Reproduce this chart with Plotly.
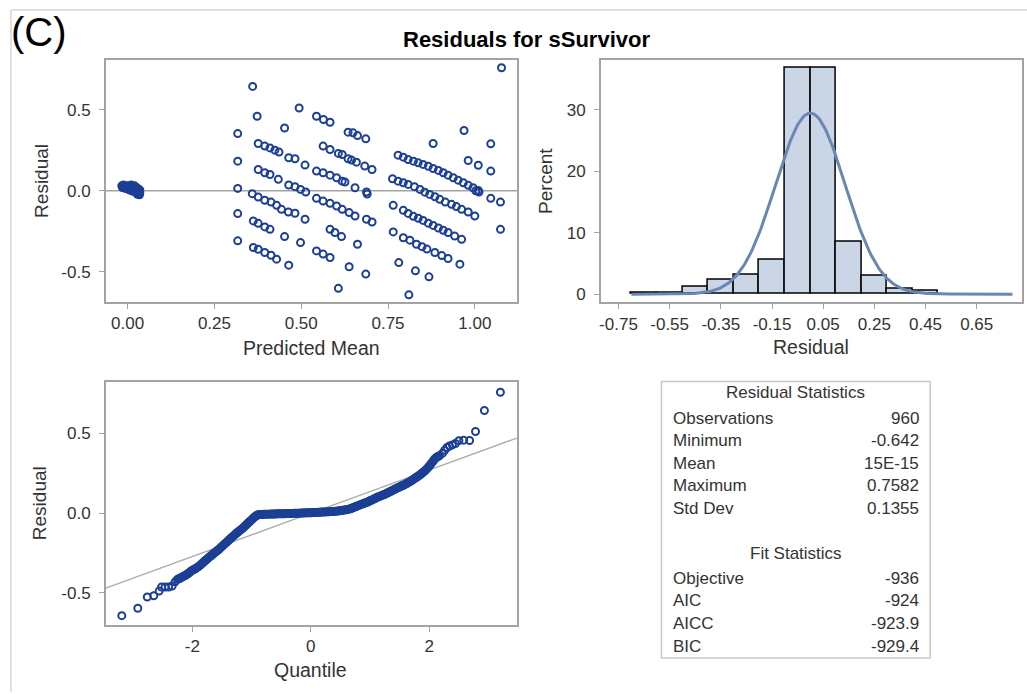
import numpy as np
import plotly.graph_objects as go

W, H = 1027, 694
FONT = "Arial, 'Liberation Sans', sans-serif"
MARK = "#1c3f95"
FRAME = "#a3a3a3"
TXT = "#333333"

# ---------------- Residual vs predicted mean ----------------
pred_mean = [
    # cluster near zero
    -0.017, -0.015, -0.012, -0.010, -0.008, -0.005, -0.003, 0.000, 0.000, 0.003,
    0.005, 0.005, 0.008, 0.010, 0.012, 0.012, 0.015, 0.017, 0.018, 0.020,
    0.022, 0.024, 0.025, 0.027, 0.029, 0.030, 0.032, 0.033, 0.035, 0.035,
    0.034, 0.028,
    # low group
    0.317, 0.317, 0.317, 0.317, 0.317, 0.360, 0.373, 0.452, 0.494,
    0.376, 0.395, 0.410, 0.424, 0.436, 0.464, 0.482, 0.511,
    0.376, 0.395, 0.410, 0.434, 0.464, 0.482, 0.498, 0.513,
    0.359, 0.376, 0.395, 0.413, 0.429, 0.443, 0.463, 0.482, 0.511,
    0.362, 0.376, 0.395, 0.410, 0.452, 0.498,
    0.362, 0.376, 0.395, 0.413, 0.429, 0.464,
    # middle group
    0.544, 0.564, 0.583, 0.635, 0.649, 0.662, 0.686,
    0.563, 0.583, 0.607, 0.618, 0.635, 0.645, 0.659, 0.683, 0.704,
    0.544, 0.563, 0.583, 0.602, 0.618, 0.626, 0.655, 0.688, 0.690,
    0.544, 0.563, 0.583, 0.602, 0.618, 0.638, 0.655, 0.688, 0.704,
    0.583, 0.597, 0.616, 0.662,
    0.544, 0.563, 0.583, 0.638, 0.686,
    0.607,
    # high group
    0.779, 0.794, 0.808, 0.823, 0.837, 0.851, 0.866, 0.880, 0.895, 0.909,
    0.923, 0.938, 0.952, 0.967, 0.981, 0.995, 1.010, 1.003, 1.012,
    0.763, 0.779, 0.794, 0.808, 0.826, 0.842, 0.856, 0.870, 0.885, 0.899,
    0.915, 0.933, 0.947, 0.962, 0.981, 1.000,
    0.765, 0.794, 0.808, 0.823, 0.837, 0.851, 0.866, 0.880, 0.895, 0.909,
    0.923, 0.942, 0.962,
    0.765, 0.794, 0.813, 0.832, 0.848, 0.862, 0.885, 0.905, 0.923, 0.957,
    0.781, 0.829, 0.868,
    0.810,
    0.880, 0.969, 0.981, 1.010, 1.046, 1.046, 1.046, 1.074, 1.074, 1.077,
]
resid_pm = [
    0.030, 0.020, 0.035, 0.025, 0.015, 0.030, 0.020, 0.025, 0.010, 0.030,
    0.015, 0.005, 0.022, 0.035, 0.010, 0.000, 0.025, 0.015, -0.005, 0.030,
    0.005, -0.010, 0.020, 0.000, -0.015, 0.012, -0.005, -0.020, -0.012, 0.005,
    -0.025, -0.022,
    0.352, 0.182, 0.014, -0.141, -0.309, 0.643, 0.459, 0.387, 0.510,
    0.291, 0.275, 0.264, 0.250, 0.238, 0.203, 0.197, 0.158,
    0.131, 0.111, 0.100, 0.070, 0.035, 0.025, 0.008, -0.008,
    -0.018, -0.039, -0.059, -0.070, -0.090, -0.115, -0.131, -0.139, -0.176,
    -0.186, -0.201, -0.223, -0.238, -0.283, -0.320,
    -0.350, -0.361, -0.381, -0.398, -0.422, -0.459,
    0.459, 0.439, 0.422, 0.361, 0.357, 0.340, 0.320,
    0.275, 0.254, 0.230, 0.223, 0.197, 0.189, 0.176, 0.152, 0.131,
    0.121, 0.111, 0.096, 0.080, 0.059, 0.053, 0.018, -0.008, -0.020,
    -0.047, -0.064, -0.078, -0.094, -0.115, -0.135, -0.156, -0.176, -0.193,
    -0.238, -0.258, -0.283, -0.330,
    -0.371, -0.391, -0.412, -0.469, -0.514,
    -0.602,
    0.219, 0.207, 0.192, 0.182, 0.172, 0.162, 0.151, 0.137, 0.125, 0.111,
    0.096, 0.080, 0.065, 0.049, 0.033, 0.018, 0.002, 0.000, -0.008,
    0.074, 0.059, 0.049, 0.039, 0.025, 0.008, -0.009, -0.023, -0.037, -0.053,
    -0.070, -0.084, -0.098, -0.115, -0.131, -0.156,
    -0.090, -0.121, -0.140, -0.158, -0.170, -0.183, -0.200, -0.214, -0.230, -0.244,
    -0.258, -0.280, -0.300,
    -0.254, -0.290, -0.305, -0.330, -0.345, -0.360, -0.381, -0.400, -0.418, -0.453,
    -0.443, -0.494, -0.531,
    -0.642,
    0.291, 0.371, 0.186, 0.157, 0.289, 0.121, -0.047, -0.070, -0.238, 0.7582,
]

# ---------------- Histogram of residuals ----------------
bin_mid = [-0.65, -0.55, -0.45, -0.35, -0.25, -0.15, -0.05, 0.05, 0.15, 0.25, 0.35, 0.45]
bin_pct = [0.2, 0.2, 1.2, 2.3, 3.2, 5.6, 36.8, 36.8, 8.5, 3.0, 0.9, 0.6]
bin_width = 0.1
hist_ticks = [-0.75, -0.55, -0.35, -0.15, 0.05, 0.25, 0.45, 0.65]

# ---------------- Normal quantile plot ----------------
qq_low_q = [-3.19, -2.92, -2.76, -2.65, -2.56, -2.52, -2.46, -2.40, -2.34, -2.29]
qq_low_r = [-0.642, -0.596, -0.525, -0.517, -0.488, -0.463, -0.463, -0.463, -0.456, -0.430]

qq_band1_q = [
    -2.25, -2.23, -2.21, -2.19, -2.17, -2.15, -2.13, -2.11, -2.09, -2.07,
    -2.05, -2.03, -2.01, -1.99, -1.97, -1.95, -1.93, -1.91, -1.89, -1.87,
    -1.85, -1.83, -1.81, -1.79, -1.77, -1.75, -1.73, -1.71, -1.69, -1.67,
    -1.65, -1.63, -1.61, -1.59, -1.57, -1.55, -1.53, -1.51, -1.49, -1.47,
    -1.45, -1.43, -1.41, -1.39, -1.37, -1.35, -1.33, -1.31, -1.29, -1.27,
    -1.25, -1.23, -1.21, -1.19, -1.17, -1.15, -1.13, -1.11, -1.09, -1.07,
    -1.05, -1.03, -1.01, -0.99, -0.97, -0.95, -0.93, -0.91, -0.89, -0.87,
]
qq_band1_r = [
    -0.415, -0.411, -0.408, -0.404, -0.400, -0.396, -0.392, -0.388, -0.383, -0.378,
    -0.372, -0.366, -0.360, -0.356, -0.352, -0.348, -0.343, -0.338, -0.333, -0.327,
    -0.320, -0.313, -0.306, -0.300, -0.293, -0.287, -0.280, -0.274, -0.268, -0.262,
    -0.256, -0.250, -0.244, -0.238, -0.232, -0.226, -0.219, -0.212, -0.205, -0.198,
    -0.191, -0.185, -0.178, -0.171, -0.164, -0.157, -0.150, -0.144, -0.137, -0.131,
    -0.124, -0.118, -0.112, -0.106, -0.100, -0.094, -0.087, -0.080, -0.073, -0.066,
    -0.058, -0.052, -0.045, -0.038, -0.030, -0.024, -0.018, -0.013, -0.010, -0.009,
]

qq_flat_q = [
    -0.845, -0.820, -0.795, -0.770, -0.745, -0.720, -0.695, -0.670, -0.645, -0.620,
    -0.595, -0.570, -0.545, -0.520, -0.495, -0.470, -0.445, -0.420, -0.395, -0.370,
    -0.345, -0.320, -0.295, -0.270, -0.245, -0.220, -0.195, -0.170, -0.145, -0.120,
    -0.095, -0.070, -0.045, -0.020, 0.005, 0.030, 0.055, 0.080, 0.105, 0.130,
    0.155, 0.180, 0.205, 0.230, 0.255, 0.280, 0.305, 0.330, 0.355, 0.380,
    0.405, 0.430, 0.455, 0.480, 0.505, 0.530, 0.555, 0.580, 0.605, 0.630,
    0.655,
]
qq_flat_r = [
    -0.008, -0.008, -0.007, -0.007, -0.006, -0.006, -0.006, -0.005, -0.005, -0.005,
    -0.005, -0.004, -0.004, -0.004, -0.004, -0.003, -0.003, -0.002, -0.002, -0.002,
    -0.002, -0.001, -0.001, 0.000, 0.000, 0.000, 0.000, 0.001, 0.001, 0.002,
    0.002, 0.003, 0.003, 0.003, 0.003, 0.004, 0.004, 0.005, 0.005, 0.006,
    0.006, 0.007, 0.007, 0.008, 0.008, 0.009, 0.009, 0.010, 0.010, 0.011,
    0.012, 0.013, 0.014, 0.015, 0.016, 0.018, 0.019, 0.021, 0.022, 0.024,
    0.027,
]

qq_band2_q = [
    0.67, 0.69, 0.71, 0.73, 0.75, 0.77, 0.79, 0.81, 0.83, 0.85,
    0.87, 0.89, 0.91, 0.93, 0.95, 0.97, 0.99, 1.01, 1.03, 1.05,
    1.07, 1.09, 1.11, 1.13, 1.15, 1.17, 1.19, 1.21, 1.23, 1.25,
    1.27, 1.29, 1.31, 1.33, 1.35, 1.37, 1.39, 1.41, 1.43, 1.45,
    1.47, 1.49, 1.51, 1.53, 1.55, 1.57, 1.59, 1.61, 1.63, 1.65,
    1.67, 1.69, 1.71, 1.73, 1.75, 1.77, 1.79, 1.81, 1.83, 1.85,
    1.87, 1.89, 1.91, 1.93, 1.95, 1.97, 1.99, 2.01, 2.03, 2.05,
    2.07, 2.09, 2.11, 2.13, 2.15, 2.17,
]
qq_band2_r = [
    0.028, 0.031, 0.034, 0.037, 0.040, 0.043, 0.046, 0.049, 0.052, 0.055,
    0.058, 0.061, 0.064, 0.066, 0.069, 0.072, 0.076, 0.079, 0.083, 0.086,
    0.090, 0.094, 0.098, 0.101, 0.104, 0.107, 0.110, 0.113, 0.116, 0.119,
    0.123, 0.126, 0.130, 0.134, 0.138, 0.141, 0.145, 0.149, 0.153, 0.156,
    0.160, 0.163, 0.167, 0.170, 0.174, 0.177, 0.181, 0.185, 0.189, 0.193,
    0.198, 0.202, 0.207, 0.212, 0.217, 0.222, 0.227, 0.232, 0.238, 0.243,
    0.249, 0.255, 0.261, 0.268, 0.275, 0.283, 0.291, 0.300, 0.310, 0.320,
    0.330, 0.340, 0.347, 0.352, 0.356, 0.360,
]

qq_high_q = [2.22, 2.26, 2.30, 2.34, 2.39, 2.44, 2.50, 2.58, 2.68, 2.78, 2.93, 3.20]
qq_high_r = [0.375, 0.395, 0.412, 0.421, 0.428, 0.437, 0.455, 0.458, 0.456, 0.512, 0.644, 0.7582]

# ---------------- Summary tables ----------------
resid_stat_names = ["Observations", "Minimum", "Mean", "Maximum", "Std Dev"]
resid_stat_values = ["960", "-0.642", "15E-15", "0.7582", "0.1355"]
fit_stat_names = ["Objective", "AIC", "AICC", "BIC"]
fit_stat_values = ["-936", "-924", "-923.9", "-929.4"]
resid_mean = 15e-15
resid_sd = 0.1355

qq_quantile = qq_low_q + qq_band1_q + qq_flat_q + qq_band2_q + qq_high_q
qq_resid = qq_low_r + qq_band1_r + qq_flat_r + qq_band2_r + qq_high_r


def fx(px):
    return px / W


def fy(py):
    return 1 - py / H


def dash_minus(vals, fmt):
    return [format(v, fmt).replace("\u2212", "-") for v in vals]


ring = dict(symbol="circle-open", size=7, color=MARK, line=dict(width=2))

fig = go.Figure()

fig.add_trace(go.Scatter(
    x=pred_mean, y=resid_pm, mode="markers", xaxis="x", yaxis="y",
    marker=ring, showlegend=False, hoverinfo="skip"))

fig.add_trace(go.Bar(
    x=bin_mid, y=bin_pct, width=bin_width, xaxis="x2", yaxis="y2",
    marker=dict(color="#cad5e5", line=dict(color="#000000", width=1.5)),
    showlegend=False, hoverinfo="skip"))

# fitted normal density, scaled to percent per bin
dens_x = np.linspace(-0.70, 0.79, 300)
dens_y = 100 * bin_width * np.exp(-0.5 * ((dens_x - resid_mean) / resid_sd) ** 2) / (resid_sd * np.sqrt(2 * np.pi))
fig.add_trace(go.Scatter(
    x=dens_x, y=dens_y, mode="lines", xaxis="x2", yaxis="y2",
    line=dict(color="#6a86b3", width=3), showlegend=False, hoverinfo="skip"))

# reference line of the normal quantile plot
q_rng = [-3.46, 3.48]
fig.add_trace(go.Scatter(
    x=q_rng, y=[resid_mean + resid_sd * q for q in q_rng], mode="lines",
    xaxis="x3", yaxis="y3", line=dict(color="#ababab", width=1.3),
    showlegend=False, hoverinfo="skip"))
fig.add_trace(go.Scatter(
    x=qq_quantile, y=qq_resid, mode="markers", xaxis="x3", yaxis="y3",
    marker=ring, showlegend=False, hoverinfo="skip"))

axis_common = dict(
    showline=True, mirror=True, linecolor=FRAME, linewidth=1.5,
    ticks="outside", ticklen=5, tickwidth=1.2, tickcolor=FRAME,
    showgrid=False, zeroline=False, fixedrange=True,
    tickfont=dict(family=FONT, size=17, color=TXT),
)
xa = dict(axis_common, ticklabelstandoff=0)
ya = dict(axis_common, ticklabelstandoff=5)

v1 = [0, 0.25, 0.5, 0.75, 1.0]
r1 = [-0.5, 0.0, 0.5]
v2 = [0, 10, 20, 30]
v3 = [-2, 0, 2]

fig.update_layout(
    width=W, height=H, margin=dict(l=0, r=0, t=0, b=0),
    paper_bgcolor="white", plot_bgcolor="white",
    xaxis=dict(domain=[fx(104), fx(516.5)], range=[-0.063, 1.123], anchor="y",
               tickvals=v1, ticktext=dash_minus(v1, ".2f"), **xa),
    yaxis=dict(domain=[fy(303), fy(60)], range=[-0.687, 0.807], anchor="x",
               tickvals=r1, ticktext=dash_minus(r1, ".1f"), **ya),
    xaxis2=dict(domain=[fx(600), fx(1021.7)], range=[-0.819, 0.826], anchor="y2",
                tickvals=hist_ticks, ticktext=dash_minus(hist_ticks, ".2f"), **xa),
    yaxis2=dict(domain=[fy(303.3), fy(60)], range=[-1.35, 38.1], anchor="x2",
                tickvals=v2, ticktext=[str(v) for v in v2], **ya),
    xaxis3=dict(domain=[fx(104), fx(516)], range=q_rng, anchor="y3",
                tickvals=v3, ticktext=dash_minus(v3, "d"), **xa),
    yaxis3=dict(domain=[fy(626.7), fy(382.7)], range=[-0.70, 0.825], anchor="x3",
                tickvals=r1, ticktext=dash_minus(r1, ".1f"), **ya),
    bargap=0,
)

shapes = [
    # zero reference in residual vs predicted panel
    dict(type="line", xref="x domain", yref="y", x0=0, x1=1, y0=0, y1=0,
         line=dict(color=FRAME, width=1.5), layer="below"),
    # outer frame edges
    dict(type="line", xref="paper", yref="paper", x0=fx(9), x1=fx(9), y0=0, y1=fy(10),
         line=dict(color="#d6d6d6", width=1.5)),
    dict(type="line", xref="paper", yref="paper", x0=fx(9), x1=1, y0=fy(10), y1=fy(10),
         line=dict(color="#d6d6d6", width=1.5)),
    # statistics box
    dict(type="rect", xref="paper", yref="paper", x0=fx(660.7), x1=fx(930),
         y0=fy(660), y1=fy(382.7), line=dict(color="#c9c9c9", width=1.5)),
]
fig.update_layout(shapes=shapes)


def text(s, px, py, size, xanchor="center", bold=False, color=TXT, angle=0):
    fig.add_annotation(
        text=f"<b>{s}</b>" if bold else s, x=fx(px), y=fy(py), xref="paper", yref="paper",
        xanchor=xanchor, yanchor="middle", showarrow=False, textangle=angle,
        font=dict(family=FONT, size=size, color=color))


text("(C)", 7, 32, 40, xanchor="left", color="#000000")
text("Residuals for sSurvivor", 525.5, 40, 22, bold=True, color="#000000")

# axis titles
text("Predicted Mean", 310, 349, 19.5)
text("Residual", 40, 181.5, 19, angle=-90)
text("Residual", 811, 348, 19.5)
text("Percent", 545, 181.5, 19, angle=-90)
text("Quantile", 309, 672, 19.5)
text("Residual", 37, 504.7, 19, angle=-90)

# statistics tables
row_h = 22.7
text("Residual Statistics", 795.5, 393.3, 17)
for i, (n, v) in enumerate(zip(resid_stat_names, resid_stat_values)):
    yy = 419.3 + i * row_h
    text(n, 670, yy, 17, xanchor="left")
    text(v, 921, yy, 17, xanchor="right")
text("Fit Statistics", 795.5, 555, 17)
for i, (n, v) in enumerate(zip(fit_stat_names, fit_stat_values)):
    yy = 580 + i * row_h
    text(n, 670, yy, 17, xanchor="left")
    text(v, 921, yy, 17, xanchor="right")

fig.write_html("out.html")
